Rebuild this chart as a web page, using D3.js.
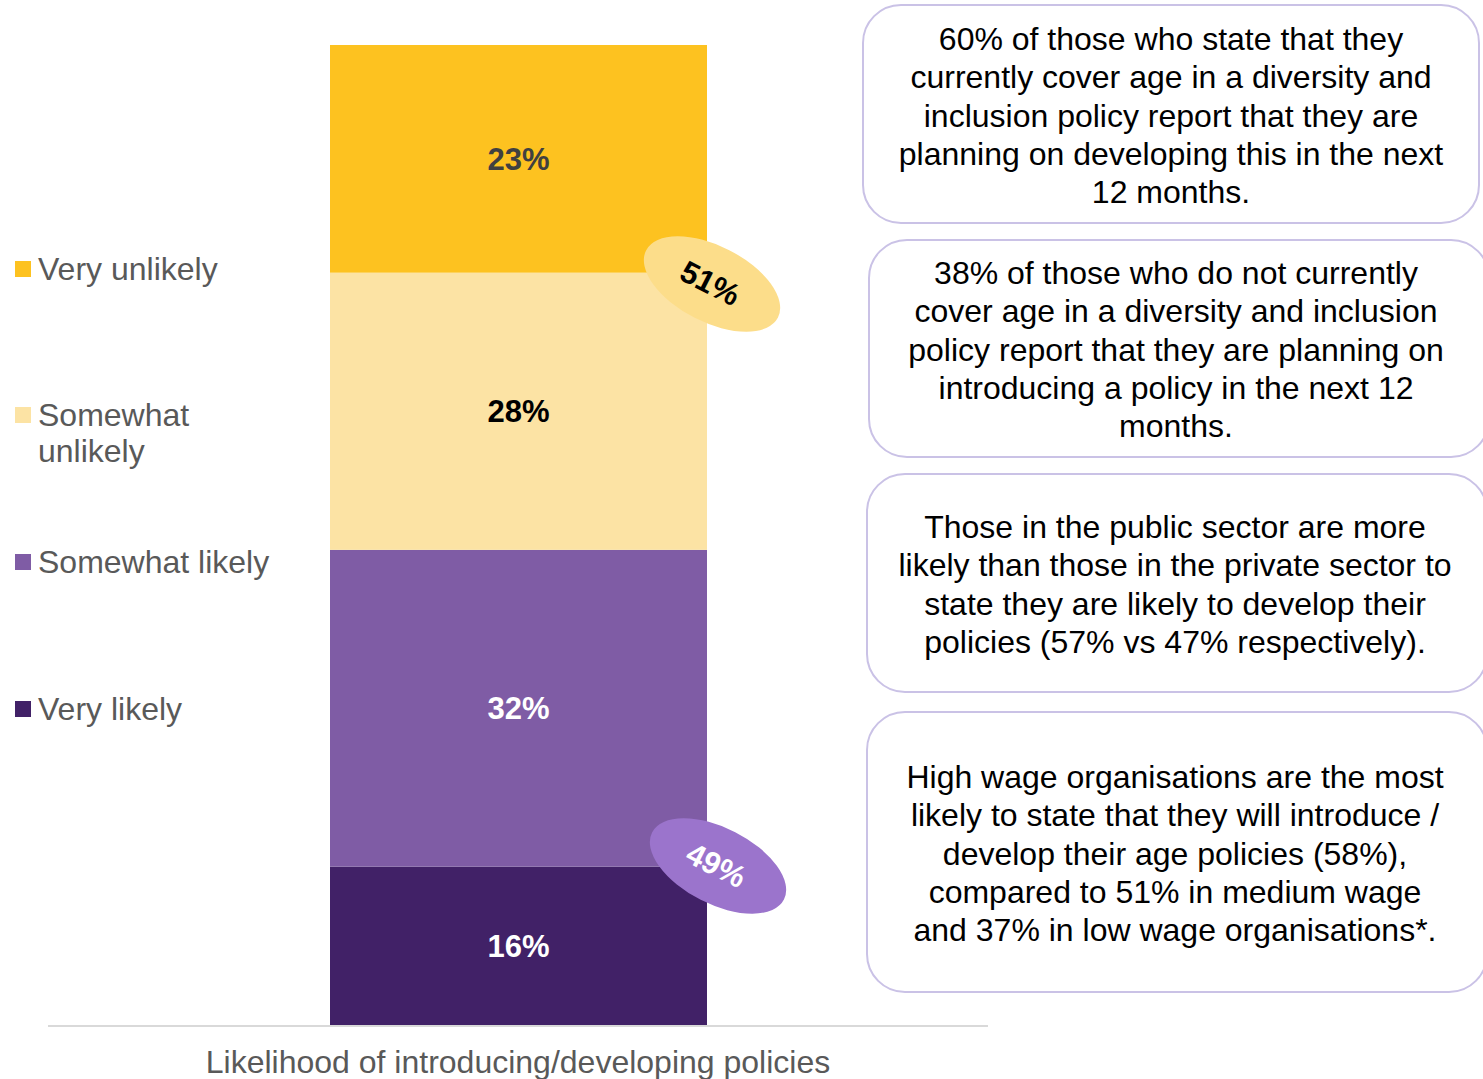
<!DOCTYPE html>
<html>
<head>
<meta charset="utf-8">
<script src="https://cdn.jsdelivr.net/npm/d3@7"></script>
<style>
  html, body { margin: 0; padding: 0; background: #fff; }
  svg { display: block; font-family: "Liberation Sans", Arial, sans-serif; }
</style>
</head>
<body>
<svg id="chart" width="1483" height="1079"></svg>
<script>
// Stacked single bar: likelihood of introducing / developing age policies
const categories = ["Very likely", "Somewhat likely", "Somewhat unlikely", "Very unlikely"];
const values = [16, 32, 28, 23];
const colors = ["#412167", "#7F5CA5", "#FCE3A4", "#FDC220"];
const labelColors = ["#ffffff", "#ffffff", "#000000", "#404040"];
const legendLines = [["Very likely"], ["Somewhat likely"], ["Somewhat", "unlikely"], ["Very unlikely"]];
const axisTitle = "Likelihood of introducing/developing policies";

// Combined totals shown in callout ellipses
const unlikelyTotal = 51;
const likelyTotal = 49;

// Key findings shown in rounded boxes on the right
const notes = [
  ["60% of those who state that they", "currently cover age in a diversity and", "inclusion policy report that they are", "planning on developing this in the next", "12 months."],
  ["38% of those who do not currently", "cover age in a diversity and inclusion", "policy report that they are planning on", "introducing a policy in the next 12", "months."],
  ["Those in the public sector are more", "likely than those in the private sector to", "state they are likely to develop their", "policies (57% vs 47% respectively)."],
  ["High wage organisations are the most", "likely to state that they will introduce /", "develop their age policies (58%),", "compared to 51% in medium wage", "and 37% in low wage organisations*."]
];

const svg = d3.select("#chart");

const total = d3.sum(values);
const y = d3.scaleLinear().domain([0, total]).range([1025, 45]);

// stacked segments
let acc = 0;
const segs = values.map((v, i) => {
  const s = { i, v, y0: acc, y1: acc + v };
  acc += v;
  return s;
});

const barX = 330, barW = 377;

svg.append("g").selectAll("rect")
  .data(segs)
  .join("rect")
  .attr("x", barX)
  .attr("width", barW)
  .attr("y", d => y(d.y1))
  .attr("height", d => y(d.y0) - y(d.y1))
  .attr("fill", d => colors[d.i]);

svg.append("g").selectAll("text")
  .data(segs)
  .join("text")
  .attr("x", barX + barW / 2)
  .attr("y", d => (y(d.y0) + y(d.y1)) / 2)
  .attr("dy", "0.35em")
  .attr("text-anchor", "middle")
  .attr("font-size", 31)
  .attr("font-weight", "bold")
  .attr("fill", d => labelColors[d.i])
  .text(d => d.v + "%");

// baseline axis
svg.append("line")
  .attr("x1", 48).attr("x2", 988)
  .attr("y1", y(0) + 1).attr("y2", y(0) + 1)
  .attr("stroke", "#D9D9D9").attr("stroke-width", 2);

svg.append("text")
  .attr("x", 518).attr("y", 1073)
  .attr("text-anchor", "middle")
  .attr("font-size", 32)
  .attr("fill", "#595959")
  .text(axisTitle);

// callout ellipses with combined totals
const callouts = [
  { value: unlikelyTotal, cx: 712, cy: 284, fill: "#FCDD8A", text: "#000000" },
  { value: likelyTotal, cx: 718, cy: 866, fill: "#9B74CC", text: "#ffffff" }
];
const cg = svg.append("g").selectAll("g")
  .data(callouts)
  .join("g")
  .attr("transform", d => `translate(${d.cx},${d.cy}) rotate(27)`);
cg.append("ellipse")
  .attr("rx", 74).attr("ry", 38)
  .attr("fill", d => d.fill);
cg.append("text")
  .attr("x", -2)
  .attr("dy", "0.35em")
  .attr("text-anchor", "middle")
  .attr("font-size", 31)
  .attr("font-weight", "bold")
  .attr("fill", d => d.text)
  .text(d => d.value + "%");

// legend
const legendY = { "Very unlikely": 269, "Somewhat unlikely": 415, "Somewhat likely": 562, "Very likely": 709 };
const lg = svg.append("g").selectAll("g")
  .data(categories.map((c, i) => ({ c, i })))
  .join("g")
  .attr("transform", d => `translate(15,${legendY[d.c]})`);
lg.append("rect")
  .attr("x", 0).attr("y", -8).attr("width", 16).attr("height", 16)
  .attr("fill", d => colors[d.i]);
lg.append("text")
  .attr("x", 23)
  .attr("font-size", 32)
  .attr("fill", "#595959")
  .selectAll("tspan")
  .data(d => legendLines[d.i])
  .join("tspan")
  .attr("x", 23)
  .attr("y", (d, j) => 11 + j * 36)
  .text(d => d);

// note boxes
const boxes = [
  { x: 863, y: 5, w: 616, h: 218, cx: 1171, by: 50 },
  { x: 869, y: 240, w: 620, h: 217, cx: 1176, by: 284 },
  { x: 867, y: 474, w: 620, h: 218, cx: 1175, by: 538 },
  { x: 867, y: 712, w: 620, h: 280, cx: 1175, by: 788 }
];
const bg = svg.append("g").selectAll("g")
  .data(boxes.map((b, i) => ({ ...b, lines: notes[i] })))
  .join("g");
bg.append("rect")
  .attr("x", d => d.x).attr("y", d => d.y)
  .attr("width", d => d.w).attr("height", d => d.h)
  .attr("rx", 38).attr("ry", 38)
  .attr("fill", "#fff")
  .attr("stroke", "#CAC2E6").attr("stroke-width", 2);
bg.append("text")
  .attr("text-anchor", "middle")
  .attr("font-size", 32)
  .attr("fill", "#000")
  .each(function(d) {
    d3.select(this).selectAll("tspan")
      .data(d.lines)
      .join("tspan")
      .attr("x", d.cx)
      .attr("y", (l, j) => d.by + j * 38.3)
      .text(l => l);
  });
</script>
</body>
</html>
